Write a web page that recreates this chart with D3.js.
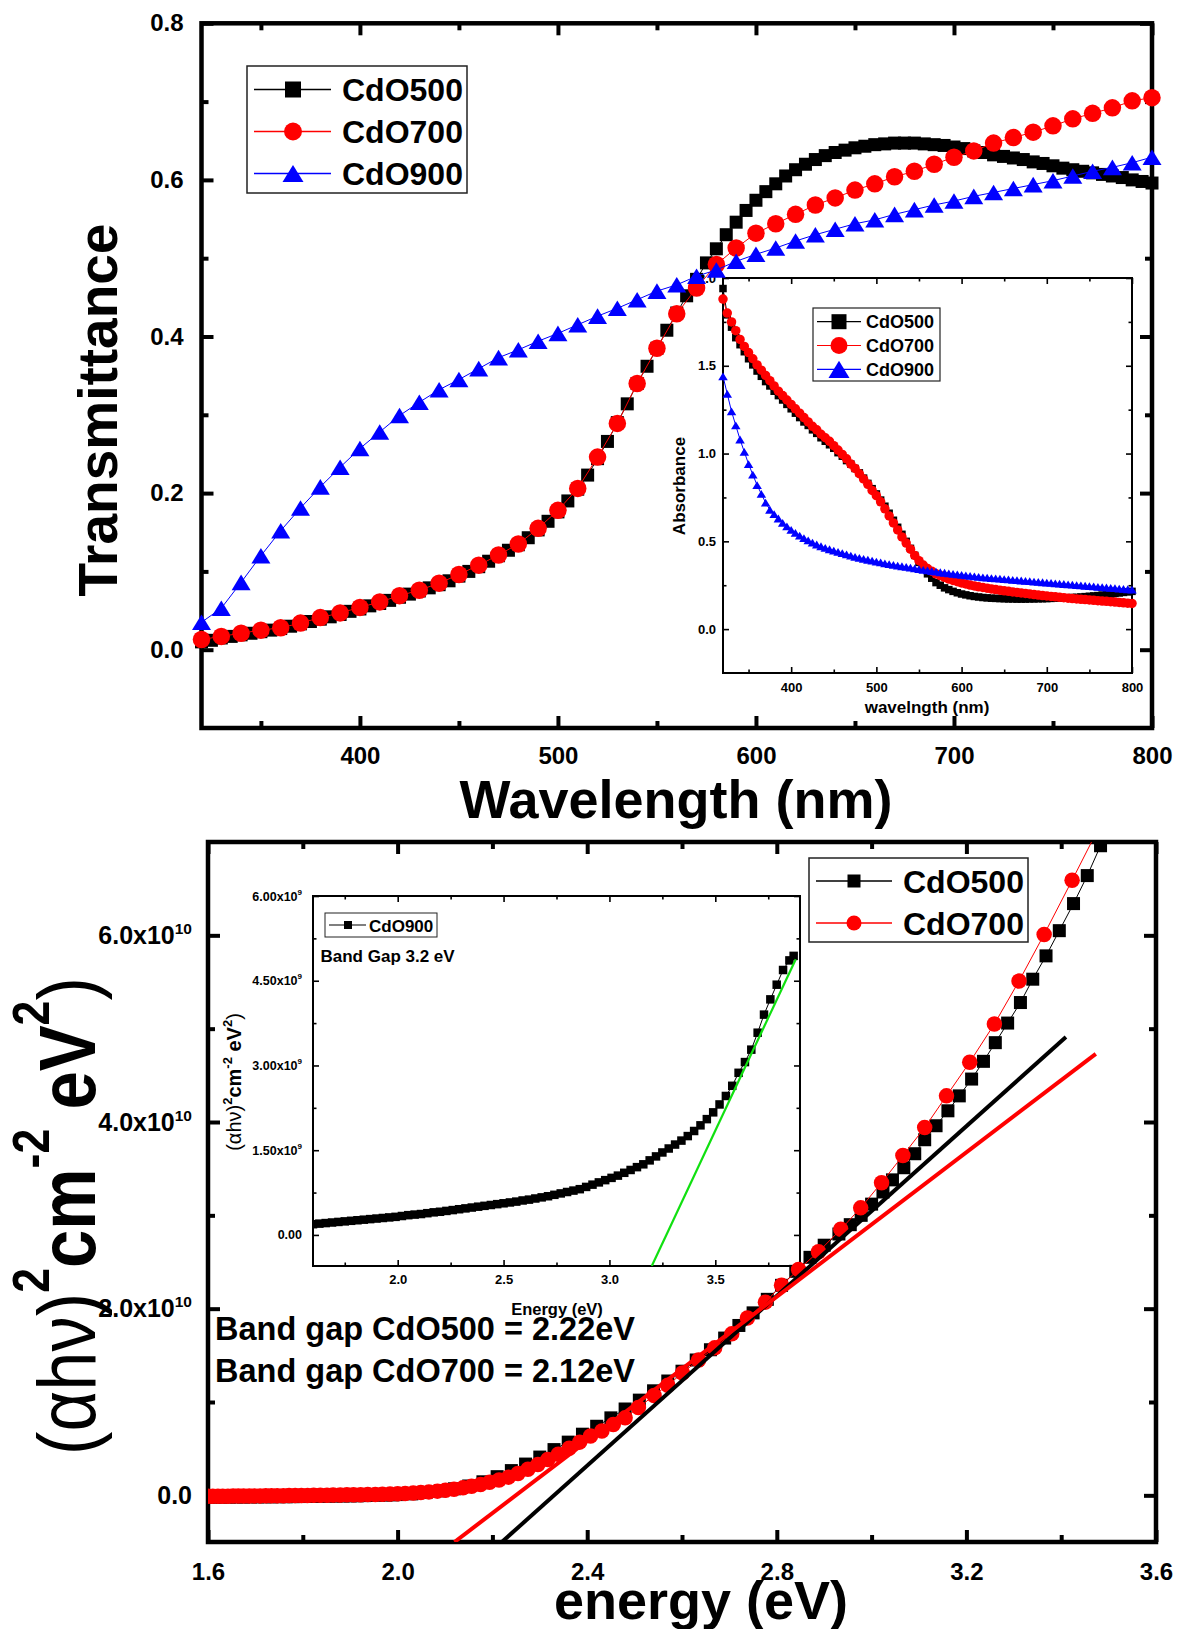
<!DOCTYPE html>
<html>
<head>
<meta charset="utf-8">
<script src="https://cdn.jsdelivr.net/npm/d3@7"></script>
<style>
  html, body { margin: 0; padding: 0; background: #fff; }
  svg { display: block; }
  text { font-family: "Liberation Sans", Arial, sans-serif; }
</style>
</head>
<body>
<svg id="chart" width="1184" height="1629"></svg>
<script>
// ---------- Transmittance (top panel) ----------
const wl10 = [320,330,340,350,360,370,380,390,400,410,420,430,440,450,460,470,480,490,500,510,
              520,530,540,550,560,570,580,590,600,610,620,630,640,650,660,670,680,690,700,710,
              720,730,740,750,760,770,780,790,800];
const wl5 = [320,325,330,335,340,345,350,355,360,365,370,375,380,385,390,395,400,405,410,415,
             420,425,430,435,440,445,450,455,460,465,470,475,480,485,490,495,500,505,510,515,
             520,525,530,535,540,545,550,555,560,565,570,575,580,585,590,595,600,605,610,615,
             620,625,630,635,640,645,650,655,660,665,670,675,680,685,690,695,700,705,710,715,
             720,725,730,735,740,745,750,755,760,765,770,775,780,785,790,795,800];

const trans500 = [0.010,0.012,0.015,0.017,0.019,0.021,0.023,0.025,0.027,0.030,
                  0.033,0.036,0.039,0.042,0.045,0.049,0.052,0.056,0.059,0.063,
                  0.067,0.071,0.075,0.079,0.083,0.088,0.094,0.100,0.106,0.113,
                  0.120,0.127,0.134,0.143,0.153,0.164,0.176,0.190,0.205,0.223,
                  0.244,0.266,0.290,0.314,0.340,0.362,0.385,0.408,0.430,0.452,
                  0.473,0.494,0.512,0.530,0.546,0.561,0.574,0.585,0.595,0.605,
                  0.613,0.620,0.626,0.631,0.635,0.638,0.641,0.643,0.645,0.646,
                  0.647,0.647,0.647,0.646,0.645,0.644,0.642,0.640,0.637,0.635,
                  0.632,0.630,0.628,0.626,0.623,0.621,0.618,0.615,0.613,0.611,
                  0.609,0.607,0.605,0.603,0.600,0.598,0.596];
const trans700 = [0.013,0.017,0.021,0.025,0.028,0.034,0.041,0.047,0.054,0.061,
                  0.069,0.076,0.085,0.096,0.108,0.121,0.135,0.155,0.178,0.206,
                  0.246,0.289,0.340,0.385,0.429,0.462,0.492,0.513,0.532,0.544,
                  0.556,0.568,0.577,0.587,0.595,0.604,0.611,0.620,0.629,0.637,
                  0.647,0.654,0.661,0.669,0.678,0.685,0.692,0.701,0.705];
const trans900 = [0.035,0.053,0.086,0.120,0.152,0.181,0.208,0.233,0.257,0.278,
                  0.299,0.316,0.332,0.345,0.359,0.373,0.383,0.394,0.404,0.415,
                  0.426,0.436,0.447,0.458,0.466,0.477,0.485,0.496,0.505,0.513,
                  0.522,0.530,0.537,0.544,0.549,0.556,0.562,0.568,0.573,0.579,
                  0.584,0.589,0.594,0.599,0.605,0.611,0.616,0.622,0.629];

// ---------- Absorbance (inset of top panel) ----------
const abs500 = [1.94,1.79,1.72,1.66,1.62,1.58,1.54,1.505,1.47,1.44,
                1.41,1.385,1.355,1.33,1.305,1.28,1.255,1.23,1.205,1.18,
                1.16,1.135,1.115,1.09,1.07,1.05,1.03,1.005,0.985,0.96,
                0.94,0.915,0.89,0.86,0.83,0.80,0.77,0.735,0.70,0.66,
                0.62,0.58,0.54,0.50,0.46,0.42,0.38,0.345,0.315,0.29,
                0.265,0.25,0.235,0.225,0.215,0.207,0.200,0.195,0.190,0.186,
                0.183,0.180,0.178,0.176,0.175,0.174,0.173,0.172,0.172,0.171,
                0.171,0.171,0.172,0.172,0.173,0.173,0.174,0.175,0.176,0.177,
                0.178,0.179,0.180,0.181,0.183,0.185,0.187,0.189,0.191,0.194,
                0.197,0.200,0.203,0.206,0.209,0.212,0.215];
const abs700 = [1.88,1.80,1.75,1.70,1.65,1.61,1.575,1.54,1.505,1.475,
                1.445,1.415,1.385,1.355,1.33,1.305,1.28,1.255,1.23,1.205,
                1.18,1.155,1.135,1.11,1.09,1.07,1.045,1.02,0.995,0.97,
                0.94,0.915,0.885,0.855,0.825,0.79,0.76,0.725,0.685,0.645,
                0.605,0.565,0.525,0.49,0.455,0.42,0.39,0.365,0.345,0.33,
                0.315,0.305,0.295,0.285,0.277,0.27,0.263,0.257,0.251,0.246,
                0.241,0.237,0.233,0.229,0.225,0.222,0.218,0.215,0.212,0.209,
                0.206,0.203,0.200,0.197,0.194,0.191,0.189,0.186,0.184,0.181,
                0.179,0.176,0.174,0.172,0.170,0.168,0.166,0.164,0.162,0.160,
                0.158,0.156,0.154,0.152,0.150,0.148,0.146];
const abs900 = [1.44,1.34,1.24,1.16,1.08,1.01,0.94,0.88,0.82,0.77,
                0.72,0.68,0.655,0.63,0.605,0.585,0.565,0.548,0.532,0.518,
                0.505,0.493,0.482,0.472,0.463,0.455,0.447,0.440,0.433,0.426,
                0.419,0.412,0.406,0.400,0.395,0.390,0.385,0.380,0.375,0.370,
                0.366,0.362,0.358,0.354,0.350,0.346,0.342,0.338,0.334,0.330,
                0.327,0.324,0.321,0.318,0.315,0.312,0.309,0.306,0.303,0.300,
                0.298,0.295,0.293,0.291,0.289,0.287,0.285,0.283,0.281,0.279,
                0.277,0.275,0.273,0.271,0.269,0.267,0.265,0.263,0.261,0.259,
                0.257,0.255,0.253,0.251,0.249,0.247,0.245,0.243,0.241,0.239,
                0.237,0.235,0.233,0.231,0.229,0.227,0.225];

// ---------- Tauc plot (bottom panel), (αhν)² in units of 1e10 ----------
const tauc500 = [
  [1.600,-0.020],[1.615,-0.020],[1.630,-0.019],[1.645,-0.019],[1.660,-0.018],[1.675,-0.018],
  [1.690,-0.017],[1.705,-0.017],[1.720,-0.016],[1.735,-0.016],[1.750,-0.015],[1.765,-0.015],
  [1.780,-0.014],[1.795,-0.013],[1.810,-0.012],[1.825,-0.011],[1.840,-0.010],[1.855,-0.009],
  [1.870,-0.008],[1.885,-0.007],[1.900,-0.006],[1.915,-0.005],[1.930,-0.003],[1.945,-0.001],
  [1.960,0.001],[1.975,0.003],[1.990,0.005],
  [2.00,0.008],[2.03,0.016],[2.06,0.030],[2.09,0.048],[2.12,0.070],[2.15,0.100],[2.18,0.145],
  [2.21,0.200],[2.24,0.265],[2.27,0.335],[2.30,0.410],[2.33,0.490],[2.36,0.570],[2.39,0.655],
  [2.42,0.740],[2.45,0.830],[2.48,0.925],[2.51,1.020],[2.54,1.120],[2.57,1.225],[2.60,1.330],
  [2.63,1.450],[2.66,1.560],[2.69,1.685],[2.72,1.820],[2.75,1.955],[2.78,2.100],[2.81,2.250],
  [2.84,2.400],[2.87,2.550],[2.90,2.680],
  [2.931,2.80],[2.955,2.90],[2.978,3.00],[3.000,3.12],[3.024,3.25],[3.044,3.38],[3.068,3.51],
  [3.091,3.66],[3.112,3.81],[3.136,3.96],[3.161,4.12],[3.185,4.28],[3.211,4.46],[3.236,4.65],
  [3.261,4.85],[3.287,5.06],[3.314,5.28],[3.340,5.53],[3.368,5.78],[3.396,6.05],[3.426,6.34],
  [3.455,6.64],[3.483,6.96],[3.511,7.28]
];
const tauc700 = [
  [1.600,-0.010],[1.610,-0.010],[1.621,-0.010],[1.631,-0.009],[1.642,-0.009],[1.653,-0.008],
  [1.664,-0.008],[1.675,-0.007],[1.687,-0.007],[1.698,-0.006],[1.710,-0.006],[1.722,-0.005],
  [1.734,-0.005],[1.746,-0.004],[1.759,-0.004],[1.771,-0.003],[1.784,-0.003],[1.797,-0.002],
  [1.810,-0.001],[1.823,0.000],[1.837,0.001],[1.851,0.002],[1.864,0.003],[1.879,0.004],
  [1.893,0.005],[1.907,0.006],[1.922,0.007],[1.937,0.008],[1.953,0.010],[1.968,0.012],
  [1.984,0.014],[2.000,0.016],[2.016,0.020],[2.033,0.025],[2.049,0.030],[2.066,0.037],
  [2.084,0.045],[2.101,0.055],[2.119,0.066],[2.138,0.080],[2.156,0.097],[2.175,0.117],
  [2.194,0.140],[2.214,0.165],[2.234,0.195],[2.254,0.235],[2.275,0.280],[2.296,0.330],
  [2.317,0.385],[2.339,0.440],[2.362,0.505],[2.384,0.570],[2.407,0.635],[2.431,0.690],
  [2.455,0.760],[2.480,0.830],
  [2.508,0.94],[2.541,1.07],[2.570,1.18],[2.601,1.31],[2.635,1.45],[2.669,1.58],[2.705,1.73],
  [2.738,1.90],[2.776,2.07],[2.810,2.25],[2.846,2.42],[2.888,2.61],[2.935,2.85],[2.977,3.08],
  [3.021,3.35],[3.066,3.64],[3.112,3.94],[3.158,4.28],[3.207,4.64],[3.259,5.05],[3.311,5.51],
  [3.364,6.01],[3.423,6.59],[3.482,7.18]
];
// Band gaps and the upper ends of the linear fits (eV, 1e10 units)
const gap500 = 2.22, gap700 = 2.12, gap900 = 3.2;
const fitTop500 = [3.41, 4.91];
const fitTop700 = [3.473, 4.73];

// ---------- Tauc plot of CdO900 (inset of bottom panel), units of 1e9 ----------
const tauc900 = [
  [1.60,0.19],[1.63,0.20],[1.66,0.21],[1.69,0.22],[1.72,0.23],[1.75,0.24],[1.78,0.25],
  [1.81,0.26],[1.84,0.27],[1.87,0.28],[1.90,0.29],[1.93,0.30],[1.96,0.31],[1.99,0.32],
  [2.02,0.335],[2.05,0.35],[2.08,0.36],[2.11,0.37],[2.14,0.385],[2.17,0.40],[2.20,0.41],
  [2.23,0.425],[2.26,0.44],[2.29,0.455],[2.32,0.47],[2.35,0.485],[2.38,0.50],[2.41,0.515],
  [2.44,0.53],[2.47,0.545],[2.50,0.56],[2.53,0.575],[2.56,0.59],[2.59,0.61],[2.62,0.625],
  [2.65,0.645],[2.68,0.665],[2.71,0.685],[2.74,0.71],[2.77,0.735],[2.80,0.76],[2.83,0.785],
  [2.86,0.81],[2.89,0.85],[2.92,0.89],[2.95,0.93],[2.98,0.97],[3.01,1.01],[3.04,1.05],
  [3.07,1.10],[3.10,1.15],[3.13,1.20],[3.16,1.25],[3.19,1.32],[3.22,1.39],[3.25,1.46],
  [3.28,1.53],[3.31,1.60],[3.34,1.67],[3.37,1.75],[3.40,1.84],[3.43,1.94],[3.46,2.05],
  [3.49,2.17],[3.52,2.31],[3.55,2.46],[3.58,2.64],[3.61,2.87],[3.64,3.06],[3.67,3.28],
  [3.70,3.58],[3.73,3.90],[3.76,4.17],[3.79,4.43],[3.82,4.69],[3.85,4.86],[3.87,4.94]
];
const fitTop900 = [3.88, 4.88];

// ---------- Tick values ----------
const topXMajor = [400,500,600,700,800], topXMinor = [350,450,550,650,750];
const topYMajor = [0,0.2,0.4,0.6,0.8], topYMinor = [0.1,0.3,0.5,0.7];
const absXMajor = [400,500,600,700,800], absXMinor = [350,450,550,650,750];
const absYMajor = [0,0.5,1.0,1.5,2.0], absYMinor = [0.25,0.75,1.25,1.75];
const botXMajor = [1.6,2.0,2.4,2.8,3.2,3.6], botXMinor = [1.8,2.2,2.6,3.0,3.4];
const botYMajor = [0,2,4,6], botYMinor = [1,3,5];
const insXMajor = [2.0,2.5,3.0,3.5], insXMinor = [1.75,2.25,2.75,3.25,3.75];
const insYMajor = [0,1.5,3.0,4.5,6.0], insYMinor = [0.75,2.25,3.75,5.25];

const colors = {CdO500:"#000000", CdO700:"#ff0000", CdO900:"#0000ff"};

// ---------- helpers ----------
const svg = d3.select("#chart");
const FONT = '"Liberation Sans", Arial, sans-serif';

function tri(w, h) { return `M0,${-h/2}L${w/2},${h/2}L${-w/2},${h/2}Z`; }

function drawMarkers(g, pts, x, y, kind, size, color) {
  const sel = g.append("g").attr("fill", color);
  if (kind === "square") {
    sel.selectAll("rect").data(pts).join("rect")
      .attr("x", d => x(d[0]) - size/2).attr("y", d => y(d[1]) - size/2)
      .attr("width", size).attr("height", size);
  } else if (kind === "circle") {
    sel.selectAll("circle").data(pts).join("circle")
      .attr("cx", d => x(d[0])).attr("cy", d => y(d[1])).attr("r", size/2);
  } else {
    sel.selectAll("path").data(pts).join("path")
      .attr("transform", d => `translate(${x(d[0])},${y(d[1])})`)
      .attr("d", tri(size, size*0.82));
  }
}

function drawLine(g, pts, x, y, color, width) {
  g.append("path").datum(pts)
    .attr("fill", "none").attr("stroke", color).attr("stroke-width", width)
    .attr("d", d3.line().x(d => x(d[0])).y(d => y(d[1])));
}

function styleAxis(sel, tickWidth, fontSize) {
  sel.select(".domain").remove();
  sel.selectAll(".tick line").attr("stroke", "#000").attr("stroke-width", tickWidth);
  sel.attr("font-family", FONT).attr("font-size", fontSize).attr("font-weight", "bold");
  sel.selectAll(".tick text").attr("fill", "#000");
}

// draws a boxed frame with inward ticks on all four sides
function drawFrame(g, x, y, c) {
  const [x0, x1] = x.range(), [y0, y1] = y.range();
  const mk = (axisFn, scale, vals, len, fmt, pad, tr, w, fs) => {
    const a = axisFn(scale).tickValues(vals).tickSize(-len).tickPadding(pad)
      .tickFormat(fmt || (() => ""));
    const s = g.append("g").attr("transform", tr).call(a);
    styleAxis(s, w, fs);
    return s;
  };
  mk(d3.axisBottom, x, c.xMinor, c.minor, null, 0, `translate(0,${y0})`, c.tickW, c.xFs);
  mk(d3.axisTop, x, c.xMinor, c.minor, null, 0, `translate(0,${y1})`, c.tickW, c.xFs);
  mk(d3.axisLeft, y, c.yMinor, c.minor, null, 0, `translate(${x0},0)`, c.tickW, c.yFs);
  mk(d3.axisRight, y, c.yMinor, c.minor, null, 0, `translate(${x1},0)`, c.tickW, c.yFs);
  const xb = mk(d3.axisBottom, x, c.xMajor, c.major, c.xFmt, c.xPad, `translate(0,${y0})`, c.tickW, c.xFs);
  mk(d3.axisTop, x, c.xMajor, c.major, null, 0, `translate(0,${y1})`, c.tickW, c.xFs);
  const yl = mk(d3.axisLeft, y, c.yMajor, c.major, c.yFmt, c.yPad, `translate(${x0},0)`, c.tickW, c.yFs);
  mk(d3.axisRight, y, c.yMajor, c.major, null, 0, `translate(${x1},0)`, c.tickW, c.yFs);
  g.append("rect").attr("x", x0).attr("y", y1).attr("width", x1 - x0).attr("height", y0 - y1)
    .attr("fill", "none").attr("stroke", "#000").attr("stroke-width", c.frameW);
  return {xb, yl};
}

function supLabels(axisSel, mainFmt, exp, supSize, supShift, zeroText) {
  axisSel.selectAll(".tick text").each(function(d) {
    const t = d3.select(this);
    t.text(null);
    if (d === 0) { t.text(zeroText); return; }
    t.append("tspan").text(mainFmt(d) + "x10");
    t.append("tspan").attr("font-size", supSize).attr("dy", -supShift).text(exp);
  });
}

function legend(g, items, cfg) {
  g.append("rect").attr("x", cfg.x).attr("y", cfg.y).attr("width", cfg.w).attr("height", cfg.h)
    .attr("fill", "#fff").attr("stroke", "#222").attr("stroke-width", cfg.border);
  const ident = d3.scaleLinear().domain([0, 1]).range([0, 1]);
  items.forEach((it, i) => {
    const cy = cfg.y0 + i * cfg.dy;
    g.append("line").attr("x1", cfg.lx0).attr("x2", cfg.lx1).attr("y1", cy).attr("y2", cy)
      .attr("stroke", it.color).attr("stroke-width", cfg.lw);
    drawMarkers(g, [[cfg.mx, cy]], ident, ident, it.kind, it.size, it.color);
    g.append("text").attr("x", cfg.tx).attr("y", cy + cfg.fs * 0.36)
      .attr("font-size", cfg.fs).attr("font-weight", "bold").attr("font-family", FONT)
      .text(it.name);
  });
}

// (αhν)²cm⁻² eV²) built from tspans; superscripts lifted with dy
function buildTauTitle(t, mainFs, greekFs, supFs, shift) {
  t.append("tspan").attr("font-weight", "normal").attr("font-size", greekFs).text("(\u03b1h\u03bd)");
  t.append("tspan").attr("font-size", supFs).attr("dy", -shift).text("2");
  t.append("tspan").attr("font-size", mainFs).attr("dy", shift).text("cm");
  t.append("tspan").attr("font-size", supFs).attr("dy", -shift).text("-2");
  t.append("tspan").attr("font-size", mainFs).attr("dy", shift).text(" eV");
  t.append("tspan").attr("font-size", supFs).attr("dy", -shift).text("2");
  t.append("tspan").attr("font-size", greekFs).attr("dy", shift).attr("font-weight", "normal").text(")");
}

// =================== TOP PANEL ===================
const gTop = svg.append("g");
const xT = d3.scaleLinear().domain([320, 800]).range([201.5, 1152]);
const yT = d3.scaleLinear().domain([-0.1, 0.8]).range([728, 23.3]);

drawFrame(gTop, xT, yT, {
  xMajor: topXMajor, xMinor: topXMinor, yMajor: topYMajor, yMinor: topYMinor,
  major: 12, minor: 7, tickW: 4, frameW: 4.5, xFs: 24, yFs: 24,
  xFmt: d3.format("d"), yFmt: d3.format(".1f"), xPad: 19, yPad: 18
});

gTop.append("text").attr("transform", "translate(117,410) rotate(-90)")
  .attr("text-anchor", "middle").attr("font-size", 55).attr("font-weight", "bold")
  .attr("font-family", FONT).text("Transmittance");
gTop.append("text").attr("x", 676).attr("y", 818)
  .attr("text-anchor", "middle").attr("font-size", 54).attr("font-weight", "bold")
  .attr("font-family", FONT).text("Wavelength (nm)");

legend(gTop, [
  {name: "CdO500", color: colors.CdO500, kind: "square", size: 16},
  {name: "CdO700", color: colors.CdO700, kind: "circle", size: 18},
  {name: "CdO900", color: colors.CdO900, kind: "triangle", size: 21}
], {x: 247, y: 66, w: 220, h: 127, border: 1.5, y0: 89.5, dy: 42,
    lx0: 254, lx1: 331, lw: 1.5, mx: 293, tx: 342, fs: 32});

// ----- inset: absorbance -----
const gIn = gTop.append("g");
const xA = d3.scaleLinear().domain([320, 800]).range([723, 1132]);
const yA = d3.scaleLinear().domain([-0.25, 2.0]).range([673, 278]);
gIn.append("rect").attr("x", 723).attr("y", 278).attr("width", 409).attr("height", 395).attr("fill", "#fff");
drawFrame(gIn, xA, yA, {
  xMajor: absXMajor, xMinor: absXMinor, yMajor: absYMajor, yMinor: absYMinor,
  major: 6, minor: 3.5, tickW: 1.6, frameW: 2, xFs: 13, yFs: 13,
  xFmt: d3.format("d"), yFmt: d3.format(".1f"), xPad: 10, yPad: 7
});
gIn.append("text").attr("transform", "translate(685,486) rotate(-90)")
  .attr("text-anchor", "middle").attr("font-size", 17).attr("font-weight", "bold")
  .attr("font-family", FONT).text("Absorbance");
gIn.append("text").attr("x", 927).attr("y", 713)
  .attr("text-anchor", "middle").attr("font-size", 17).attr("font-weight", "bold")
  .attr("font-family", FONT).text("wavelngth (nm)");

const absPts = arr => wl5.map((w, i) => [w, arr[i]]);
const gInData = gIn.append("g");
drawLine(gInData, absPts(abs500), xA, yA, colors.CdO500, 1);
drawMarkers(gInData, absPts(abs500), xA, yA, "square", 7.5, colors.CdO500);
drawLine(gInData, absPts(abs700), xA, yA, colors.CdO700, 1);
drawMarkers(gInData, absPts(abs700), xA, yA, "circle", 9.5, colors.CdO700);
drawLine(gInData, absPts(abs900), xA, yA, colors.CdO900, 1);
drawMarkers(gInData, absPts(abs900), xA, yA, "triangle", 9.5, colors.CdO900);

legend(gIn, [
  {name: "CdO500", color: colors.CdO500, kind: "square", size: 15},
  {name: "CdO700", color: colors.CdO700, kind: "circle", size: 17},
  {name: "CdO900", color: colors.CdO900, kind: "triangle", size: 21}
], {x: 813, y: 308, w: 127, h: 73, border: 1.2, y0: 321.7, dy: 23.8,
    lx0: 817, lx1: 861, lw: 1.2, mx: 839, tx: 866, fs: 18});

// ----- main transmittance curves -----
const gTopData = gTop.append("g");
const p500 = wl5.map((w, i) => [w, trans500[i]]);
const p700 = wl10.map((w, i) => [w, trans700[i]]);
const p900 = wl10.map((w, i) => [w, trans900[i]]);
drawLine(gTopData, p500, xT, yT, colors.CdO500, 1);
drawMarkers(gTopData, p500, xT, yT, "square", 13, colors.CdO500);
drawLine(gTopData, p700, xT, yT, colors.CdO700, 1);
drawMarkers(gTopData, p700, xT, yT, "circle", 17.5, colors.CdO700);
drawLine(gTopData, p900, xT, yT, colors.CdO900, 1);
drawMarkers(gTopData, p900, xT, yT, "triangle", 19, colors.CdO900);

// =================== BOTTOM PANEL ===================
const gBot = svg.append("g");
const xB = d3.scaleLinear().domain([1.6, 3.6]).range([208, 1156]);
const yB = d3.scaleLinear().domain([-0.5, 7]).range([1542, 842]);

const fb = drawFrame(gBot, xB, yB, {
  xMajor: botXMajor, xMinor: botXMinor, yMajor: botYMajor, yMinor: botYMinor,
  major: 12, minor: 7, tickW: 4, frameW: 4.5, xFs: 24, yFs: 25,
  xFmt: d3.format(".1f"), yFmt: d3.format(".1f"), xPad: 21, yPad: 16
});
supLabels(fb.yl, d3.format(".1f"), "10", 15.5, 10, "0.0");

// axis titles
const yTitle = gBot.append("text")
  .attr("transform", "translate(95,1455) rotate(-90) scale(0.86,1)")
  .attr("text-anchor", "start").attr("font-size", 80).attr("font-weight", "bold")
  .attr("font-family", FONT);
buildTauTitle(yTitle, 80, 82, 52, 46);
gBot.append("text").attr("x", 701).attr("y", 1619)
  .attr("text-anchor", "middle").attr("font-size", 54).attr("font-weight", "bold")
  .attr("font-family", FONT).text("energy (eV)");

// ----- inset: CdO900 Tauc plot -----
const gIn2 = gBot.append("g");
const xI = d3.scaleLinear().domain([1.6, 3.9]).range([313, 800]);
const yI = d3.scaleLinear().domain([-0.55, 6.0]).range([1266, 896]);
gIn2.append("rect").attr("x", 313).attr("y", 896).attr("width", 487).attr("height", 370).attr("fill", "#fff");
const fi = drawFrame(gIn2, xI, yI, {
  xMajor: insXMajor, xMinor: insXMinor, yMajor: insYMajor, yMinor: insYMinor,
  major: 6, minor: 3.5, tickW: 1.6, frameW: 2, xFs: 13, yFs: 12.5,
  xFmt: d3.format(".1f"), yFmt: d3.format(".2f"), xPad: 9, yPad: 11
});
supLabels(fi.yl, d3.format(".2f"), "9", 8, 6, "0.00");

const yTitle2 = gIn2.append("text").attr("transform", "translate(241,1082) rotate(-90)")
  .attr("text-anchor", "middle").attr("font-size", 20).attr("font-weight", "bold")
  .attr("font-family", FONT);
buildTauTitle(yTitle2, 20, 20, 13, 9);
gIn2.append("text").attr("x", 557).attr("y", 1315)
  .attr("text-anchor", "middle").attr("font-size", 16.5).attr("font-weight", "bold")
  .attr("font-family", FONT).text("Energy (eV)");

svg.append("clipPath").attr("id", "clipIns")
  .append("rect").attr("x", 313).attr("y", 896).attr("width", 487).attr("height", 370);
const gIn2Data = gIn2.append("g").attr("clip-path", "url(#clipIns)");
drawLine(gIn2Data, tauc900, xI, yI, "#000", 1);
drawMarkers(gIn2Data, tauc900, xI, yI, "square", 8.5, "#000");
drawLine(gIn2Data, [[gap900, -0.55], fitTop900], xI, yI, "#10e010", 2.2);

// inset legend and note
gIn2.append("rect").attr("x", 325).attr("y", 913).attr("width", 112).attr("height", 24)
  .attr("fill", "#fff").attr("stroke", "#222").attr("stroke-width", 1);
gIn2.append("line").attr("x1", 329).attr("x2", 366).attr("y1", 925).attr("y2", 925)
  .attr("stroke", "#000").attr("stroke-width", 1.2);
gIn2.append("rect").attr("x", 344).attr("y", 921).attr("width", 8).attr("height", 8).attr("fill", "#000");
gIn2.append("text").attr("x", 369).attr("y", 931.5).attr("font-size", 17).attr("font-weight", "bold")
  .attr("font-family", FONT).text("CdO900");
gIn2.append("text").attr("x", 320.5).attr("y", 962).attr("font-size", 17).attr("font-weight", "bold")
  .attr("font-family", FONT).text(`Band Gap ${gap900.toFixed(1)} eV`);

// ----- main Tauc curves -----
svg.append("clipPath").attr("id", "clipBot")
  .append("rect").attr("x", 208).attr("y", 842).attr("width", 948).attr("height", 700);
const gBotData = gBot.append("g").attr("clip-path", "url(#clipBot)");
drawLine(gBotData, tauc500, xB, yB, colors.CdO500, 1);
drawMarkers(gBotData, tauc500, xB, yB, "square", 13, colors.CdO500);
drawLine(gBotData, tauc700, xB, yB, colors.CdO700, 1);
drawMarkers(gBotData, tauc700, xB, yB, "circle", 15.5, colors.CdO700);
// linear fits, anchored at the band gap on the lower axis
drawLine(gBotData, [[gap500, -0.5], fitTop500], xB, yB, "#000", 4);
drawLine(gBotData, [[gap700, -0.5], fitTop700], xB, yB, "#ff0000", 4);

legend(gBot, [
  {name: "CdO500", color: colors.CdO500, kind: "square", size: 13},
  {name: "CdO700", color: colors.CdO700, kind: "circle", size: 15}
], {x: 809, y: 858, w: 219, h: 84, border: 1.5, y0: 881, dy: 42,
    lx0: 816, lx1: 892, lw: 1.5, mx: 854, tx: 903, fs: 32});

gBot.append("text").attr("x", 215).attr("y", 1340).attr("font-size", 32.5).attr("font-weight", "bold")
  .attr("font-family", FONT).text(`Band gap CdO500 = ${gap500.toFixed(2)}eV`);
gBot.append("text").attr("x", 215).attr("y", 1382).attr("font-size", 32.5).attr("font-weight", "bold")
  .attr("font-family", FONT).text(`Band gap CdO700 = ${gap700.toFixed(2)}eV`);
</script>
</body>
</html>
